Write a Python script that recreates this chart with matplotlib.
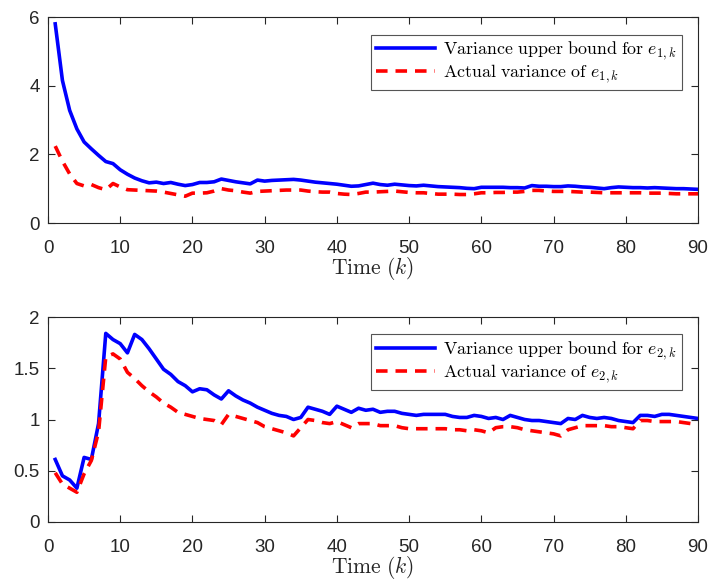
import numpy as np
import matplotlib.pyplot as plt

plt.rcParams['font.family'] = ['Liberation Sans', 'DejaVu Sans']
plt.rcParams['mathtext.fontset'] = 'cm'

k = list(range(1, 91))

bound_e1 = [5.80, 4.15, 3.28, 2.74, 2.36, 2.16, 1.97, 1.79, 1.73, 1.55,
            1.42, 1.31, 1.23, 1.17, 1.19, 1.15, 1.18, 1.13, 1.09, 1.12,
            1.18, 1.18, 1.20, 1.28, 1.24, 1.20, 1.17, 1.14, 1.25, 1.22,
            1.24, 1.25, 1.26, 1.27, 1.25, 1.22, 1.19, 1.17, 1.15, 1.13,
            1.10, 1.07, 1.08, 1.12, 1.16, 1.12, 1.10, 1.13, 1.11, 1.09,
            1.08, 1.10, 1.08, 1.06, 1.05, 1.04, 1.03, 1.01, 1.00, 1.04,
            1.04, 1.04, 1.04, 1.03, 1.03, 1.02, 1.09, 1.07, 1.07, 1.06,
            1.06, 1.08, 1.07, 1.05, 1.04, 1.02, 1.00, 1.03, 1.05, 1.04,
            1.03, 1.03, 1.02, 1.03, 1.02, 1.01, 1.00, 1.00, 0.99, 0.98]

actual_e1 = [2.24, 1.80, 1.43, 1.15, 1.08, 1.12, 1.03, 0.97, 1.15, 1.05,
             0.97, 0.96, 0.95, 0.94, 0.93, 0.90, 0.86, 0.82, 0.78, 0.87,
             0.87, 0.88, 0.93, 1.00, 0.96, 0.94, 0.90, 0.87, 0.92, 0.93,
             0.94, 0.95, 0.96, 0.96, 0.96, 0.93, 0.91, 0.90, 0.90, 0.86,
             0.84, 0.83, 0.86, 0.90, 0.90, 0.91, 0.92, 0.93, 0.91, 0.89,
             0.88, 0.88, 0.86, 0.84, 0.84, 0.84, 0.83, 0.83, 0.85, 0.88,
             0.88, 0.89, 0.89, 0.90, 0.90, 0.92, 0.95, 0.95, 0.93, 0.92,
             0.92, 0.92, 0.91, 0.90, 0.90, 0.89, 0.88, 0.88, 0.88, 0.88,
             0.88, 0.88, 0.87, 0.87, 0.87, 0.86, 0.85, 0.85, 0.85, 0.85]

bound_e2 = [0.61, 0.45, 0.41, 0.33, 0.63, 0.61, 0.96, 1.84, 1.78, 1.74,
            1.65, 1.83, 1.78, 1.69, 1.59, 1.49, 1.44, 1.37, 1.33, 1.27,
            1.30, 1.29, 1.24, 1.20, 1.28, 1.23, 1.19, 1.16, 1.12, 1.09,
            1.06, 1.04, 1.03, 1.00, 1.02, 1.12, 1.10, 1.08, 1.05, 1.13,
            1.10, 1.07, 1.11, 1.09, 1.10, 1.07, 1.08, 1.08, 1.06, 1.05,
            1.04, 1.05, 1.05, 1.05, 1.05, 1.03, 1.02, 1.02, 1.04, 1.03,
            1.01, 1.02, 1.00, 1.04, 1.02, 1.00, 0.99, 0.99, 0.98, 0.97,
            0.96, 1.01, 1.00, 1.04, 1.02, 1.01, 1.02, 1.01, 0.99, 0.98,
            0.97, 1.04, 1.04, 1.03, 1.05, 1.05, 1.04, 1.03, 1.02, 1.01]

actual_e2 = [0.48, 0.37, 0.33, 0.29, 0.47, 0.60, 0.88, 1.61, 1.64, 1.59,
             1.46, 1.40, 1.33, 1.27, 1.22, 1.16, 1.12, 1.07, 1.05, 1.03,
             1.01, 1.00, 0.99, 0.95, 1.05, 1.03, 1.01, 0.99, 0.97, 0.93,
             0.91, 0.89, 0.87, 0.84, 0.92, 1.00, 0.99, 0.97, 0.96, 0.98,
             0.95, 0.92, 0.96, 0.96, 0.96, 0.94, 0.94, 0.94, 0.92, 0.91,
             0.91, 0.91, 0.91, 0.91, 0.91, 0.90, 0.90, 0.89, 0.90, 0.89,
             0.87, 0.92, 0.93, 0.93, 0.92, 0.90, 0.89, 0.88, 0.87, 0.86,
             0.84, 0.90, 0.92, 0.94, 0.94, 0.94, 0.94, 0.93, 0.93, 0.92,
             0.91, 0.99, 0.99, 0.98, 0.98, 0.98, 0.98, 0.97, 0.96, 0.95]

fig = plt.figure(figsize=(7.12, 5.81), dpi=100)
ax1 = fig.add_axes([48 / 712, 1 - 223 / 581, 650 / 712, 206 / 581])
ax2 = fig.add_axes([48 / 712, 1 - 522 / 581, 650 / 712, 205 / 581])

dark = '#262626'


def style(ax, ymax, yticks):
    ax.set_xlim(0, 90)
    ax.set_ylim(0, ymax)
    ax.set_xticks(range(0, 91, 10))
    ax.set_yticks(yticks)
    ax.tick_params(direction='in', top=True, right=True, labelsize=13.5,
                   colors=dark, length=5, width=0.8)
    ax.tick_params(axis='x', pad=12)
    ax.tick_params(axis='y', pad=6)
    for s in ax.spines.values():
        s.set_color(dark)
        s.set_linewidth(0.8)
    ax.set_xlabel(r'$\mathrm{Time}\ (k)$', fontsize=15.5, color=dark,
                  labelpad=-1.5)
    leg = ax.legend(loc='upper right', bbox_to_anchor=(0.976, 0.915),
                    fontsize=12.9, fancybox=False, framealpha=1,
                    edgecolor='#555555', handlelength=3.3, handletextpad=0.45,
                    borderpad=0.3, labelspacing=0.0, borderaxespad=0)
    leg.get_frame().set_linewidth(0.8)


ax1.plot(k, bound_e1, color='#0000ff', lw=2.6,
         label=r'$\mathrm{Variance\ upper\ bound\ for}\ e_{1,k}$')
ax1.plot(k, actual_e1, color='#ff0000', lw=2.6, ls=(0, (3.2, 2.2)),
         label=r'$\mathrm{Actual\ variance\ of}\ e_{1,k}$')
style(ax1, 6, [0, 2, 4, 6])

ax2.plot(k, bound_e2, color='#0000ff', lw=2.6,
         label=r'$\mathrm{Variance\ upper\ bound\ for}\ e_{2,k}$')
ax2.plot(k, actual_e2, color='#ff0000', lw=2.6, ls=(0, (3.2, 2.2)),
         label=r'$\mathrm{Actual\ variance\ of}\ e_{2,k}$')
style(ax2, 2, [0, 0.5, 1, 1.5, 2])
ax2.set_yticklabels(['0', '0.5', '1', '1.5', '2'])

fig.savefig('out.png', dpi=100)
